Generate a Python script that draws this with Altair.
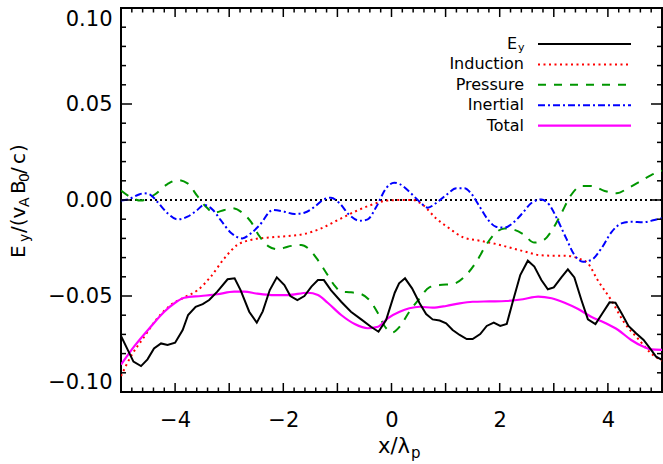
import altair as alt
import pandas as pd

# ---------------- data ----------------
ey_x = [-5.0, -4.77, -4.63, -4.51, -4.39, -4.26, -4.14, -4.0, -3.86, -3.76, -3.62, -3.49, -3.37, -3.22,
        -3.03, -2.9, -2.79, -2.63, -2.49, -2.38, -2.25, -2.12, -1.98, -1.87, -1.74, -1.61, -1.48, -1.36,
        -1.25, -1.12, -0.93, -0.75, -0.56, -0.38, -0.24, -0.1, 0.06, 0.14, 0.25, 0.38, 0.52, 0.64, 0.76,
        0.89, 1.01, 1.13, 1.26, 1.39, 1.5, 1.64, 1.76, 1.89, 2.01, 2.13, 2.25, 2.38, 2.52, 2.64, 2.77,
        2.89, 3.0, 3.14, 3.26, 3.38, 3.51, 3.63, 3.77, 3.89, 4.03, 4.14, 4.26, 4.38, 4.52, 4.66, 4.8,
        4.89, 5.0]
ey_y = [-0.0708, -0.0842, -0.0865, -0.083, -0.0773, -0.0747, -0.0755, -0.0743, -0.0677, -0.0599, -0.0556,
        -0.0542, -0.0521, -0.0477, -0.0413, -0.0408, -0.0469, -0.0582, -0.0639, -0.058, -0.0469, -0.0403,
        -0.0443, -0.05, -0.0521, -0.05, -0.0451, -0.0417, -0.0417, -0.0469, -0.053, -0.0582, -0.0622,
        -0.066, -0.0686, -0.0625, -0.0483, -0.0434, -0.0408, -0.046, -0.0538, -0.0594, -0.0622, -0.0628,
        -0.0642, -0.0677, -0.0703, -0.0724, -0.0724, -0.0698, -0.0656, -0.0639, -0.0656, -0.0646, -0.0521,
        -0.0391, -0.0316, -0.0347, -0.0417, -0.0465, -0.0455, -0.0403, -0.0361, -0.0403, -0.0521, -0.0622,
        -0.0646, -0.0594, -0.0533, -0.0535, -0.0594, -0.0656, -0.0694, -0.0729, -0.0781, -0.0816, -0.0833]

ind_x = [-5.0, -4.82, -4.57, -4.33, -4.08, -3.83, -3.58, -3.34, -3.09, -2.85, -2.6, -2.22, -1.92, -1.61,
         -1.3, -0.99, -0.68, -0.38, -0.07, 0.2, 0.39, 0.58, 0.82, 1.07, 1.32, 1.63, 1.93, 2.24, 2.5, 2.71,
         2.96, 3.2, 3.45, 3.63, 3.81, 4.06, 4.31, 4.55, 4.8, 5.0]
ind_y = [-0.0917, -0.0816, -0.0712, -0.0616, -0.0547, -0.0507, -0.0469, -0.0399, -0.0304, -0.0234, -0.0208,
         -0.0194, -0.0188, -0.0177, -0.0148, -0.0104, -0.0061, -0.0026, -0.0003, 0.0, 0.0, -0.0026, -0.0095,
         -0.0148, -0.0194, -0.0212, -0.0229, -0.0252, -0.0271, -0.0286, -0.029, -0.029, -0.0304, -0.033,
         -0.0417, -0.0521, -0.0642, -0.072, -0.0799, -0.0837]

pre_x = [-5.0, -4.82, -4.63, -4.39, -4.14, -3.96, -3.77, -3.59, -3.43, -3.28, -3.09, -2.94, -2.76, -2.6,
         -2.45, -2.28, -2.1, -1.92, -1.67, -1.52, -1.36, -1.18, -1.06, -0.93, -0.75, -0.56, -0.41, -0.25,
         -0.13, 0.02, 0.15, 0.33, 0.52, 0.7, 0.89, 1.13, 1.35, 1.57, 1.75, 1.93, 2.09, 2.24, 2.43, 2.64,
         2.83, 2.95, 3.14, 3.32, 3.51, 3.69, 3.94, 4.16, 4.37, 4.62, 4.8, 5.0]
pre_y = [0.0049, 0.0014, -0.0003, 0.0026, 0.0083, 0.0104, 0.0087, 0.0021, -0.0035, -0.0066, -0.0052, -0.0043,
         -0.0066, -0.0113, -0.0185, -0.024, -0.0257, -0.0243, -0.0234, -0.0257, -0.0313, -0.0391, -0.0443,
         -0.0477, -0.0481, -0.049, -0.0521, -0.059, -0.0656, -0.0689, -0.066, -0.0582, -0.0512, -0.0455,
         -0.0443, -0.0438, -0.0399, -0.0321, -0.0234, -0.017, -0.0148, -0.0153, -0.0177, -0.0222, -0.0205,
         -0.0165, -0.0069, 0.0026, 0.0073, 0.0073, 0.0047, 0.0035, 0.0061, 0.0101, 0.013, 0.0153]

ine_x = [-5.0, -4.87, -4.69, -4.57, -4.45, -4.33, -4.14, -3.96, -3.77, -3.59, -3.47, -3.31, -3.16, -2.97,
         -2.76, -2.6, -2.45, -2.19, -1.98, -1.79, -1.61, -1.42, -1.27, -1.12, -0.96, -0.78, -0.59, -0.44,
         -0.28, -0.1, 0.05, 0.15, 0.33, 0.52, 0.67, 0.82, 1.01, 1.2, 1.35, 1.47, 1.63, 1.78, 1.93, 2.09,
         2.27, 2.43, 2.58, 2.77, 2.92, 3.07, 3.23, 3.38, 3.54, 3.69, 3.88, 4.06, 4.25, 4.43, 4.65, 4.86, 5.0]
ine_y = [-0.0003, 0.0003, 0.0026, 0.0035, 0.0026, -0.0009, -0.0069, -0.0101, -0.0087, -0.0052, -0.0026,
         -0.0049, -0.0104, -0.017, -0.02, -0.0174, -0.0135, -0.0052, -0.0061, -0.0073, -0.0066, -0.0035, 0.0,
         0.0012, -0.0017, -0.0078, -0.0108, -0.0101, -0.0035, 0.0061, 0.009, 0.0083, 0.0043, -0.0009, -0.004,
         -0.0017, 0.0026, 0.0061, 0.0061, 0.0035, -0.0035, -0.0101, -0.0139, -0.0144, -0.0113, -0.0066,
         -0.0017, 0.0003, -0.0026, -0.0104, -0.02, -0.0286, -0.0321, -0.0313, -0.0252, -0.017, -0.0122,
         -0.0113, -0.0116, -0.0104, -0.0095]

tot_x = [-5.0, -4.76, -4.45, -4.2, -4.0, -3.83, -3.52, -3.22, -2.91, -2.72, -2.48, -2.22, -1.92, -1.55,
         -1.36, -1.18, -0.93, -0.68, -0.44, -0.25, -0.07, 0.15, 0.33, 0.52, 0.76, 1.01, 1.26, 1.5, 1.81,
         2.12, 2.43, 2.71, 2.96, 3.2, 3.45, 3.69, 3.94, 4.19, 4.43, 4.68, 4.8, 5.0]
tot_y = [-0.0858, -0.0764, -0.066, -0.0582, -0.0535, -0.0509, -0.05, -0.0491, -0.0477, -0.0477, -0.0488,
         -0.0495, -0.0495, -0.0483, -0.0495, -0.0535, -0.0599, -0.0646, -0.0668, -0.066, -0.0616, -0.0582,
         -0.0564, -0.0556, -0.0561, -0.0552, -0.0538, -0.053, -0.0528, -0.0526, -0.0517, -0.0503, -0.0512,
         -0.0535, -0.0568, -0.0608, -0.0639, -0.0677, -0.0729, -0.0767, -0.0778, -0.0781]

x_tick_labels = [-4, -2, 0, 2, 4]
y_tick_labels = [-0.10, -0.05, 0.00, 0.05, 0.10]
x_major = [-4, -3, -2, -1, 0, 1, 2, 3, 4]
x_minor = [v / 5 for v in range(-24, 25) if v % 5 != 0]
y_major = [-0.05, 0.0, 0.05]
y_minor = [v / 100 for v in range(-9, 10) if v % 5 != 0]

legend_names = ["E", "Induction", "Pressure", "Inertial", "Total"]
legend_colors = ["#000000", "#FF0000", "#009600", "#0000FF", "#FF00FF"]
legend_dashes = [None, [2, 3.5], [8, 8], [7, 3, 2, 3], None]

# ---------------- layout ----------------
W, H = 541, 384
FONT = "DejaVu Sans"
xscale = alt.Scale(domain=[-5, 5], nice=False, zero=False)
yscale = alt.Scale(domain=[-0.1, 0.1], nice=False, zero=False)
xaxis = alt.Axis(values=x_tick_labels, format="d", ticks=False, domain=False, grid=False,
                 labelFont=FONT, labelFontSize=21, labelColor="black", labelPadding=17, title=None)
yaxis = alt.Axis(values=y_tick_labels, format=".2f", ticks=False, domain=False, grid=False,
                 labelFont=FONT, labelFontSize=21, labelColor="black", labelPadding=9,
                 labelFlush=True, title=None)
X = lambda f: alt.X(f, scale=xscale, axis=xaxis)
Y = lambda f: alt.Y(f, scale=yscale, axis=yaxis)


def line(xs, ys, color, dash=None, width=2.0, interp="monotone"):
    kw = dict(color=color, strokeWidth=width, interpolate=interp, clip=True)
    if dash:
        kw["strokeDash"] = dash
    return alt.Chart(pd.DataFrame({"x": xs, "y": ys})).mark_line(**kw).encode(x=X("x:Q"), y=Y("y:Q"))


layers = []
# zero line
layers.append(alt.Chart(pd.DataFrame({"y": [0.0]})).mark_rule(
    color="black", strokeWidth=2, strokeDash=[2, 3]).encode(y=Y("y:Q")))

layers.append(line(ind_x, ind_y, "#FF0000", [2, 3.5], 2.0))
layers.append(line(pre_x, pre_y, "#009600", [9, 8], 2.0))
layers.append(line(ine_x, ine_y, "#0000FF", [7, 3, 2, 3], 2.0))
layers.append(line(tot_x, tot_y, "#FF00FF", None, 2.2))
layers.append(line(ey_x, ey_y, "#000000", None, 2.0, "linear"))

# ticks (inward, on all four sides)
def xticks(vals, ln):
    d = pd.DataFrame({"t": vals})
    b = alt.Chart(d).mark_rule(color="black", strokeWidth=1.5).encode(
        x=X("t:Q"), y=alt.value(H), y2=alt.value(H - ln))
    t = alt.Chart(d).mark_rule(color="black", strokeWidth=1.5).encode(
        x=X("t:Q"), y=alt.value(0), y2=alt.value(ln))
    return [b, t]


def yticks(vals, ln):
    d = pd.DataFrame({"t": vals})
    l = alt.Chart(d).mark_rule(color="black", strokeWidth=1.5).encode(
        y=Y("t:Q"), x=alt.value(0), x2=alt.value(ln))
    r = alt.Chart(d).mark_rule(color="black", strokeWidth=1.5).encode(
        y=Y("t:Q"), x=alt.value(W), x2=alt.value(W - ln))
    return [l, r]


layers += xticks(x_major, 9) + xticks(x_minor, 4.5) + yticks(y_major, 11) + yticks(y_minor, 5)

# legend
row_y = [36, 56.4, 76.8, 97.2, 117.6]
for i, name in enumerate(legend_names):
    d = pd.DataFrame({"label": [name]})
    kw = dict(color=legend_colors[i], strokeWidth=2.2 if i == 4 else 2)
    if legend_dashes[i]:
        kw["strokeDash"] = legend_dashes[i]
    layers.append(alt.Chart(d).mark_rule(**kw).encode(
        x=alt.value(417), x2=alt.value(510), y=alt.value(row_y[i])))
    xr = 396 if i == 0 else 403
    layers.append(alt.Chart(d).mark_text(align="right", baseline="middle", font=FONT, fontSize=16,
                                         color="black").encode(
        text="label:N", x=alt.value(xr), y=alt.value(row_y[i])))
layers.append(alt.Chart(pd.DataFrame({"label": ["y"]})).mark_text(
    align="left", baseline="middle", font=FONT, fontSize=11, color="black").encode(
    text="label:N", x=alt.value(397), y=alt.value(row_y[0] + 4)))

# x-axis title  x/λ_p
layers.append(alt.Chart(pd.DataFrame({"label": ["x/λ"]})).mark_text(
    align="right", baseline="alphabetic", font=FONT, fontSize=21, color="black").encode(
    text="label:N", x=alt.value(289), y=alt.value(445)))
layers.append(alt.Chart(pd.DataFrame({"label": ["p"]})).mark_text(
    align="left", baseline="alphabetic", font=FONT, fontSize=15, color="black").encode(
    text="label:N", x=alt.value(290), y=alt.value(450)))

# y-axis title  E_y/(v_A B_0/c), rotated, glyph runs placed along the axis
ytitle_text = ["E", "y", "/(v", "A", "B", "0", "/", "c", ")"]
ytitle_pos = [250, 234, 225, 199, 186, 174, 166, 156, 144]
ytitle_sub = [False, True, False, True, False, True, False, False, False]
for txt, pos, sub in zip(ytitle_text, ytitle_pos, ytitle_sub):
    layers.append(alt.Chart(pd.DataFrame({"label": [txt]})).mark_text(
        align="left", baseline="alphabetic", font=FONT, fontSize=14 if sub else 20,
        color="black", angle=270).encode(
        text="label:N", x=alt.value(-96 + (4 if sub else 0)), y=alt.value(pos)))

chart = alt.layer(*layers).properties(
    width=W, height=H,
    padding={"left": 121, "top": 8, "right": 1, "bottom": 72},
    autosize=alt.AutoSizeParams(type="none"),
    background="white",
).configure_view(stroke="black", strokeWidth=2)

chart.save("out.html", embed_options={"renderer": "svg", "actions": False})
